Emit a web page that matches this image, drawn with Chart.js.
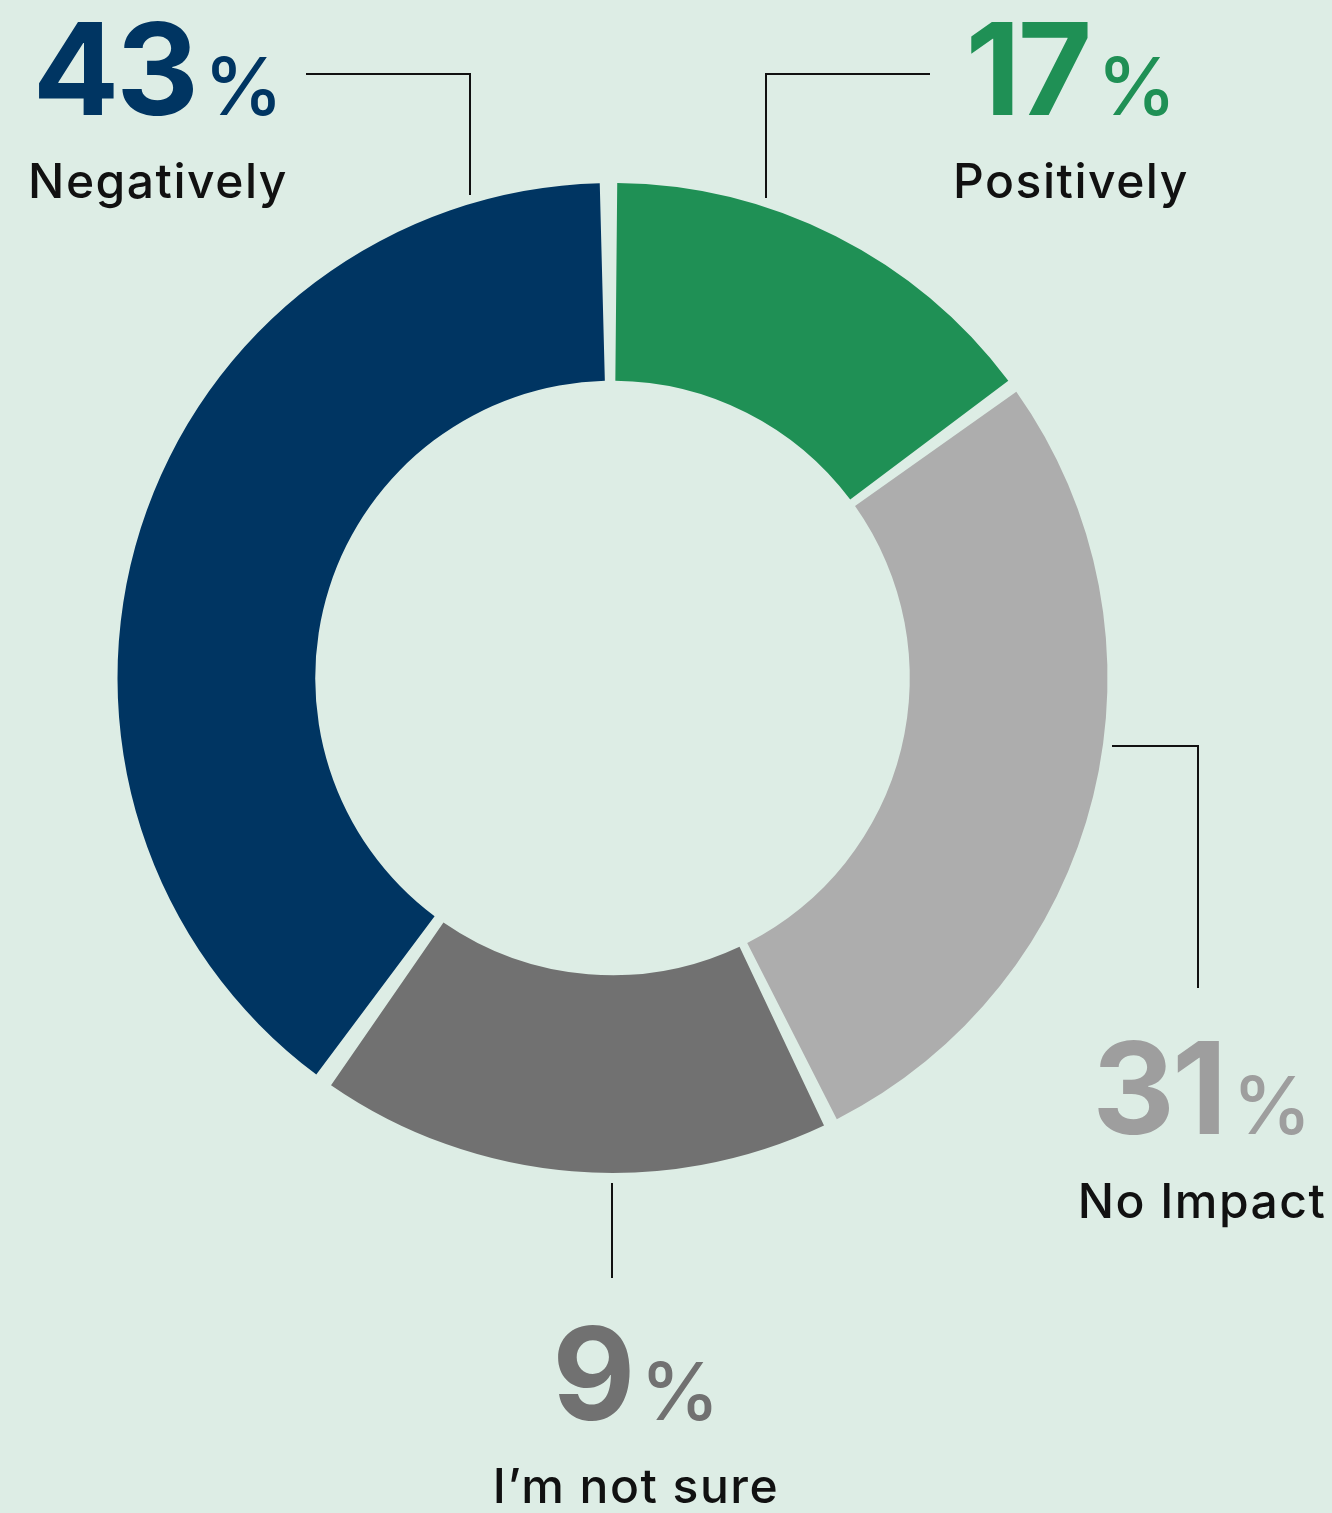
<!DOCTYPE html>
<html>
<head>
<meta charset="utf-8">
<script src="https://cdn.jsdelivr.net/npm/chart.js@4/dist/chart.umd.min.js"></script>
<style>
  html, body { margin: 0; padding: 0; background: #ddede5; }
  #wrap { position: relative; width: 1332px; height: 1513px; }
  canvas { display: block; }
</style>
</head>
<body>
<div id="wrap"><canvas id="donut" width="1332" height="1513"></canvas></div>
<script>
// answer categories, clockwise from the top
const categories = ['Positively', 'No Impact', 'I\u2019m not sure', 'Negatively'];
// shares as printed in the labels
const labelPercents = [17, 31, 9, 43];
const sliceValues = [14.9, 27.9, 17.0, 40.2];
const sliceColors = ['#1f9055', '#adadad', '#717171', '#003562'];
const labelColors = ['#1f9055', '#9e9e9e', '#717171', '#003562'];

// where each label block sits (centre x, baseline of big number, baseline of name)
const labelLayout = [
  { cx: 1071, numBase: 115, nameBase: 198 },
  { cx: 1202, numBase: 1134, nameBase: 1218 },
  { cx: 636, numBase: 1420, nameBase: 1503 },
  { cx: 158, numBase: 115, nameBase: 198 }
];
// leader lines, one polyline per label
const leaders = [
  [[930, 74], [766, 74], [766, 198]],
  [[1112, 746], [1198, 746], [1198, 988]],
  [[612, 1183], [612, 1278]],
  [[306, 74], [470, 74], [470, 195]]
];

const FONT = 'Inter, "Open Sans", sans-serif';

const labelsPlugin = {
  id: 'calloutLabels',
  afterDraw(chart) {
    const ctx = chart.ctx;
    ctx.save();

    // leader lines
    ctx.strokeStyle = '#111';
    ctx.lineWidth = 2;
    leaders.forEach(pts => {
      ctx.beginPath();
      pts.forEach((p, i) => i ? ctx.lineTo(p[0], p[1]) : ctx.moveTo(p[0], p[1]));
      ctx.stroke();
    });

    ctx.textBaseline = 'alphabetic';
    ctx.textAlign = 'left';
    categories.forEach((name, i) => {
      const lay = labelLayout[i];
      const num = String(labelPercents[i]);

      ctx.fillStyle = labelColors[i];
      ctx.font = '700 128px ' + FONT;
      ctx.letterSpacing = '-3px';
      const wNum = ctx.measureText(num).width;
      ctx.font = '500 80px ' + FONT;
      ctx.letterSpacing = '0px';
      const wPct = ctx.measureText('%').width;
      const gap = 8;
      let x = lay.cx - (wNum + gap + wPct) / 2;

      ctx.font = '700 128px ' + FONT;
      ctx.letterSpacing = '-3px';
      ctx.fillText(num, x, lay.numBase);
      ctx.font = '500 80px ' + FONT;
      ctx.letterSpacing = '0px';
      ctx.fillText('%', x + wNum + gap, lay.numBase);

      ctx.fillStyle = '#111';
      ctx.font = '500 48px ' + FONT;
      ctx.letterSpacing = '1.5px';
      const wName = ctx.measureText(name).width;
      ctx.fillText(name, lay.cx - wName / 2, lay.nameBase);
    });
    ctx.restore();
  }
};

new Chart(document.getElementById('donut'), {
  type: 'doughnut',
  data: {
    labels: categories,
    datasets: [{
      data: sliceValues,
      backgroundColor: sliceColors,
      borderWidth: 0,
      spacing: 16
    }]
  },
  options: {
    responsive: false,
    animation: false,
    cutout: '59.4%',
    rotation: 0,
    layout: { padding: { left: 117.5, right: 224.5, top: 183, bottom: 340 } },
    plugins: { legend: { display: false }, tooltip: { enabled: false } },
    events: []
  },
  plugins: [labelsPlugin]
});
</script>
</body>
</html>
